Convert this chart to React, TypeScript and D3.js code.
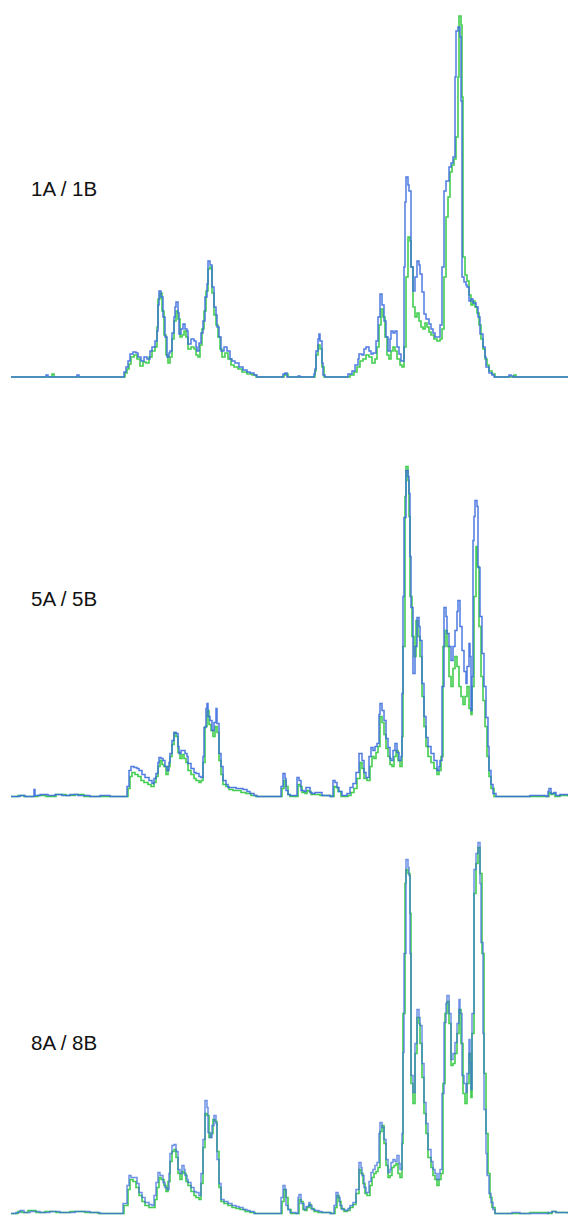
import React, { useEffect, useRef } from "react";
import * as d3 from "d3";

// scan position, intensity
const trace1A: [number, number][] = [[11,0],[45,0],[46,2],[48,0],[76,0],[77,2],[79,0],[122,0],[124,5],[126,10],[128,16],[130,23],[133,25],[136,24],[138,20],[141,16],[144,20],[147,18],[150,26],[152,30],[155,36],[157,46],[158,72],[159,86],[161,80],[163,60],[165,40],[167,20],[169,24],[170,26],[172,44],[174,60],[175,70],[176,75],[178,64],[179,43],[181,48],[183,53],[185,48],[187,46],[188,33],[191,38],[194,36],[196,30],[197,26],[199,34],[201,44],[203,56],[205,80],[207,93],[208,116],[210,112],[212,90],[214,70],[216,62],[217,50],[219,40],[221,26],[224,30],[227,26],[230,18],[232,16],[235,14],[239,10],[243,7],[247,5],[250,4],[254,2],[257,0],[281,0],[283,3],[285,4],[287,0],[296,0],[298,1],[300,0],[312,0],[314,3],[315,8],[316,26],[318,38],[319,43],[320,36],[322,14],[323,2],[325,0],[345,0],[348,3],[352,6],[355,12],[358,18],[359,23],[362,22],[364,28],[366,30],[369,26],[371,23],[373,24],[376,36],[378,60],[380,83],[382,72],[384,56],[386,40],[388,26],[390,38],[391,46],[393,44],[395,46],[397,30],[399,23],[401,16],[403,16],[404,110],[405,175],[406,200],[408,192],[409,186],[411,110],[413,86],[415,100],[417,116],[419,112],[420,103],[422,85],[424,63],[426,58],[429,53],[431,48],[433,44],[435,40],[438,40],[440,52],[442,110],[444,186],[446,196],[449,210],[451,214],[453,220],[455,300],[456,346],[458,350],[460,340],[461,276],[462,100],[464,95],[466,92],[467,90],[469,76],[471,78],[473,74],[476,70],[478,60],[480,43],[483,30],[485,20],[486,10],[489,4],[492,2],[494,0],[507,0],[509,2],[511,1],[513,0],[568,0]];
const trace1B: [number, number][] = [[11,0],[50,0],[52,3],[54,0],[122,0],[125,4],[127,8],[129,13],[131,20],[134,22],[137,18],[140,11],[143,15],[146,14],[149,20],[152,26],[155,30],[157,50],[158,78],[160,84],[162,66],[164,42],[166,22],[168,14],[170,20],[172,38],[174,56],[176,66],[178,58],[180,40],[182,42],[184,46],[186,40],[188,28],[191,30],[194,28],[196,22],[198,20],[200,32],[202,48],[204,66],[206,86],[208,108],[210,110],[212,84],[214,62],[216,52],[218,40],[220,28],[222,20],[225,24],[228,18],[231,12],[234,10],[238,8],[242,5],[247,3],[252,2],[256,0],[282,0],[284,2],[286,3],[288,0],[313,0],[315,6],[316,22],[318,32],[320,28],[322,10],[324,0],[346,0],[350,2],[354,5],[357,10],[360,16],[363,18],[366,22],[369,20],[372,14],[375,18],[377,30],[379,52],[381,68],[383,60],[385,40],[387,22],[389,18],[391,26],[393,30],[395,26],[397,18],[400,12],[402,10],[404,30],[406,100],[408,140],[410,136],[411,110],[413,70],[415,60],[417,64],[419,56],[421,50],[423,48],[425,54],[427,50],[429,45],[431,42],[434,38],[437,36],[440,38],[442,48],[444,100],[446,160],[448,180],[450,205],[452,212],[454,218],[456,240],[458,300],[459,361],[461,352],[462,280],[463,120],[465,102],[467,96],[469,82],[471,72],[473,76],[475,70],[477,64],[479,52],[481,38],[483,28],[485,18],[487,12],[489,6],[492,3],[495,0],[512,0],[514,2],[516,0],[568,0]];

const trace5A: [number, number][] = [[11,0],[20,1],[25,0],[33,0],[34,7],[35,1],[40,2],[48,1],[55,2],[62,1],[70,2],[78,1],[90,0],[100,1],[110,0],[125,0],[127,10],[129,26],[131,30],[134,29],[137,28],[139,26],[142,22],[145,19],[149,16],[152,13],[154,18],[156,23],[158,34],[159,39],[161,38],[163,36],[165,30],[167,26],[169,34],[170,43],[172,56],[174,64],[176,63],[178,50],[179,43],[181,46],[183,46],[185,43],[187,40],[188,33],[191,28],[194,24],[196,23],[199,20],[201,19],[203,40],[204,69],[206,88],[207,93],[208,80],[210,76],[212,66],[214,74],[216,88],[217,73],[219,43],[221,30],[223,16],[226,12],[228,9],[232,9],[236,8],[239,8],[243,7],[247,5],[250,3],[254,1],[257,0],[280,0],[281,10],[283,23],[285,18],[286,6],[288,2],[290,1],[295,1],[297,19],[299,16],[301,6],[304,5],[306,9],[308,9],[310,4],[312,3],[315,4],[319,4],[322,1],[330,0],[333,16],[335,14],[337,9],[339,5],[342,1],[347,3],[350,9],[353,13],[356,24],[359,43],[362,36],[364,24],[366,19],[369,40],[371,49],[373,46],[375,50],[377,53],[379,82],[380,93],[382,86],[384,76],[386,58],[388,49],[390,38],[391,36],[393,46],[395,53],[397,44],[399,36],[401,40],[402,103],[403,200],[404,279],[406,326],[408,320],[409,303],[410,240],[411,189],[413,123],[415,150],[417,179],[419,170],[420,156],[422,113],[424,80],[426,59],[428,50],[431,43],[434,36],[437,26],[439,30],[440,36],[442,110],[444,189],[446,180],[447,163],[449,150],[451,136],[453,150],[455,166],[457,185],[458,196],[460,170],[462,146],[464,125],[466,113],[467,130],[469,153],[470,140],[471,86],[472,120],[473,256],[474,280],[475,296],[477,290],[478,229],[480,180],[482,143],[484,110],[486,79],[488,50],[489,26],[491,12],[493,3],[496,0],[520,0],[530,1],[546,0],[548,5],[549,8],[551,3],[554,4],[556,1],[560,2],[568,1]];
const trace5B: [number, number][] = [[11,0],[18,1],[24,0],[38,1],[46,0],[56,2],[66,1],[75,2],[84,0],[126,0],[128,8],[130,20],[132,24],[135,22],[138,20],[141,16],[144,14],[148,12],[151,10],[154,14],[156,20],[158,30],[160,36],[162,32],[164,30],[166,22],[168,30],[170,40],[172,52],[174,64],[176,60],[178,44],[180,38],[182,42],[184,38],[186,34],[188,26],[191,22],[194,18],[196,16],[199,14],[201,16],[203,34],[205,70],[207,86],[209,72],[211,66],[213,60],[215,70],[217,64],[219,36],[221,22],[223,12],[226,10],[229,7],[233,6],[237,6],[241,4],[246,3],[251,1],[256,0],[281,0],[282,8],[284,16],[286,10],[288,2],[290,0],[296,0],[298,12],[300,10],[302,4],[305,3],[307,6],[309,5],[311,2],[315,2],[320,1],[331,0],[334,10],[336,9],[338,5],[341,0],[348,1],[351,4],[354,8],[357,18],[360,34],[362,28],[364,18],[367,16],[370,30],[372,40],[374,38],[376,44],[378,50],[380,80],[382,74],[384,62],[386,48],[388,40],[390,32],[392,30],[394,40],[396,46],[398,36],[400,30],[402,60],[403,150],[405,300],[406,330],[408,316],[409,280],[410,200],[412,160],[414,140],[416,176],[418,160],[420,140],[422,100],[424,70],[426,50],[428,40],[431,34],[434,28],[437,22],[439,26],[441,40],[443,150],[445,166],[447,150],[449,120],[451,110],[453,128],[455,140],[457,130],[459,110],[461,100],[463,92],[465,100],[467,110],[469,88],[471,82],[472,110],[474,200],[476,250],[477,230],[479,170],[481,120],[483,96],[485,70],[487,40],[489,20],[491,8],[494,0],[548,0],[549,4],[551,2],[553,3],[555,0],[560,1],[568,0]];

const trace8A: [number, number][] = [[11,0],[16,1],[20,3],[24,1],[30,2],[40,1],[50,2],[60,1],[75,2],[90,1],[100,0],[120,0],[123,10],[127,28],[129,38],[131,36],[134,36],[137,30],[139,21],[142,16],[145,11],[149,9],[152,8],[154,18],[156,31],[158,41],[160,38],[163,31],[165,26],[167,24],[169,40],[170,60],[172,68],[174,69],[176,62],[178,44],[180,40],[182,48],[184,44],[185,38],[187,34],[188,31],[191,26],[194,22],[196,21],[199,18],[201,40],[203,74],[205,113],[207,106],[208,81],[210,76],[212,88],[214,98],[216,90],[217,54],[219,30],[221,14],[224,12],[228,10],[232,8],[236,7],[239,6],[243,4],[247,3],[250,2],[254,0],[280,0],[281,16],[283,28],[285,24],[286,8],[288,4],[290,1],[296,0],[298,16],[299,19],[301,10],[304,4],[306,7],[309,11],[310,8],[312,4],[315,3],[319,2],[322,1],[330,0],[334,8],[336,21],[338,16],[340,8],[342,4],[345,3],[348,5],[350,8],[353,11],[356,24],[359,51],[361,46],[362,38],[364,26],[366,21],[369,32],[371,41],[373,44],[375,48],[377,51],[379,80],[380,91],[382,86],[384,74],[386,54],[388,41],[390,44],[391,51],[393,54],[395,52],[397,58],[399,50],[400,44],[402,80],[403,161],[404,260],[406,354],[408,346],[409,338],[410,260],[411,138],[413,121],[415,170],[417,204],[419,196],[420,188],[422,150],[424,111],[426,90],[428,64],[431,52],[433,44],[435,40],[437,34],[439,40],[440,44],[442,120],[444,191],[446,210],[447,218],[449,200],[451,154],[453,160],[455,171],[457,190],[459,214],[460,200],[462,138],[464,130],[466,121],[467,140],[469,174],[470,150],[471,124],[472,200],[474,344],[476,360],[478,371],[480,330],[481,271],[483,180],[484,104],[486,60],[487,38],[489,20],[491,11],[493,4],[495,0],[510,0],[512,1],[520,0],[540,0],[548,1],[552,2],[556,1],[568,0]];
const trace8B: [number, number][] = [[11,0],[18,2],[22,1],[28,3],[36,1],[45,2],[56,1],[70,2],[85,1],[98,0],[121,0],[124,8],[128,24],[130,34],[133,32],[136,26],[139,18],[142,12],[145,8],[149,6],[152,6],[155,14],[157,26],[159,36],[161,34],[164,28],[166,22],[168,32],[170,52],[172,62],[174,64],[176,56],[178,40],[180,34],[182,42],[184,40],[186,32],[188,28],[191,22],[194,18],[196,16],[199,14],[201,30],[203,66],[205,100],[207,98],[209,76],[211,80],[213,94],[215,92],[217,62],[219,26],[221,12],[224,10],[228,8],[232,6],[236,5],[240,4],[245,2],[250,1],[255,0],[281,0],[282,12],[284,24],[286,16],[288,4],[291,0],[297,0],[299,14],[301,12],[303,4],[305,3],[307,6],[309,9],[311,5],[314,2],[318,1],[331,0],[335,6],[337,18],[339,12],[341,5],[344,2],[347,3],[350,6],[353,9],[356,20],[359,44],[361,40],[363,30],[365,20],[367,18],[370,28],[372,36],[374,40],[376,42],[378,46],[380,82],[382,88],[384,70],[386,48],[388,36],[390,38],[392,46],[394,48],[396,50],[398,40],[400,36],[402,70],[403,200],[405,330],[406,344],[408,340],[410,300],[411,130],[413,110],[415,160],[417,196],[419,190],[420,170],[422,136],[424,100],[426,80],[428,56],[431,46],[433,38],[435,34],[437,28],[439,34],[441,40],[443,130],[445,200],[447,212],[449,190],[451,148],[453,150],[455,160],[457,180],[459,204],[461,170],[463,120],[465,110],[467,130],[469,160],[471,116],[472,180],[474,320],[476,350],[478,366],[480,340],[482,260],[484,140],[486,80],[488,40],[490,16],[492,6],[495,0],[520,0],[530,1],[548,0],[552,2],[556,1],[568,0]];

const panelLabels = ["1A / 1B", "5A / 5B", "8A / 8B"];
const tracesA = [trace1A, trace5A, trace8A];
const tracesB = [trace1B, trace5B, trace8B];

export default function App() {
    const svgRef = useRef<SVGSVGElement>(null);

    useEffect(() => {
        const svg = d3.select(svgRef.current);
        svg.selectAll("*").remove();

        const w = 568;
        const baselines = [377, 796.5, 1213.5];
        const labelY = [196, 606, 1050];
        const colorA = "#3b6bde";
        const colorB = "#2fc93c";

        const x = d3.scaleLinear().domain([11, 568]).range([11, 568]);

        panelLabels.forEach((label, i) => {
            const y = d3.scaleLinear().domain([0, 370]).range([baselines[i], baselines[i] - 370]);
            const line = d3.line<[number, number]>()
                .x(d => x(d[0]))
                .y(d => y(d[1]))
                .curve(d3.curveStepAfter);

            const g = svg.append("g");

            g.append("path")
                .datum(tracesB[i])
                .attr("d", line)
                .attr("fill", "none")
                .attr("stroke", colorB)
                .attr("stroke-width", 1.6)
                .attr("stroke-opacity", 0.9);

            g.append("path")
                .datum(tracesA[i])
                .attr("d", line)
                .attr("fill", "none")
                .attr("stroke", colorA)
                .attr("stroke-width", 1.5)
                .attr("stroke-opacity", i === 2 ? 0.75 : 0.9);

            g.append("text")
                .attr("x", 31)
                .attr("y", labelY[i])
                .attr("font-family", "'Liberation Sans', Arial, sans-serif")
                .attr("font-size", 20.5)
                .attr("fill", "#111")
                .text(label);
        });

        svg.attr("width", w).attr("height", 1216);
    }, []);

    return (
        <svg ref={svgRef} style={{ position: "absolute", left: 0, top: 0, background: "#fff" }} />
    );
}
